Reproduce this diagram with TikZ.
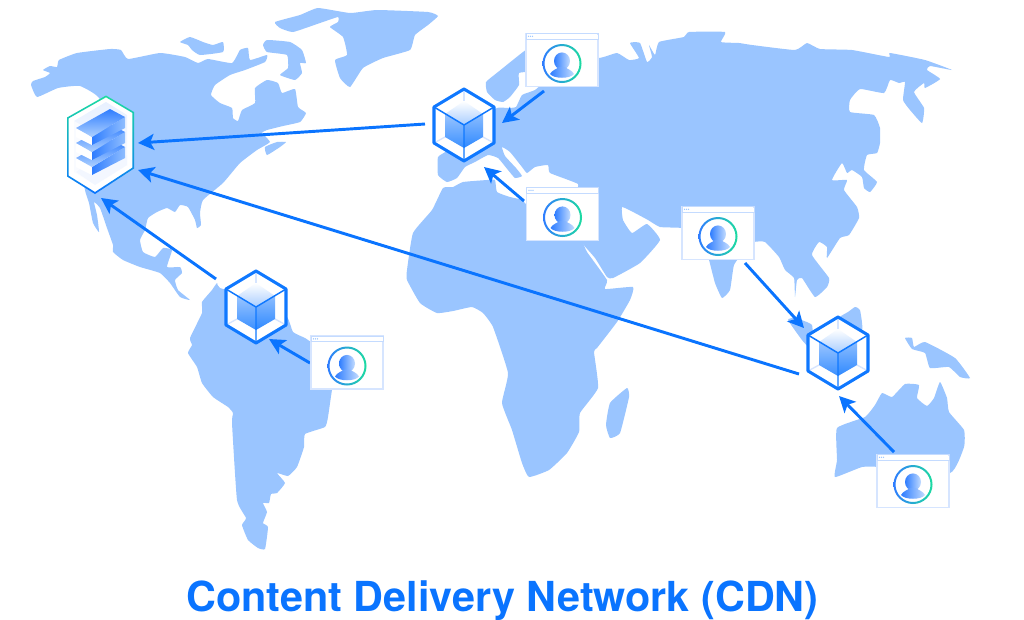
\documentclass[tikz,border=0pt]{standalone}
\usepackage{fontspec}
\setmainfont{TeX Gyre Heros}
\usetikzlibrary{arrows.meta,calc}
\definecolor{landc}{HTML}{9AC5FF}
\definecolor{flowc}{HTML}{0A74FF}
\definecolor{edgec}{HTML}{0F78FF}
\definecolor{paleb}{HTML}{D6E5FF}
\definecolor{ringg}{HTML}{1CDCA0}
\definecolor{ringb}{HTML}{2F7DFF}
\tikzset{
  land/.style={fill=landc,draw=none},
  flow/.style={draw=flowc,line width=2.2pt,-{Stealth[length=12pt,width=12pt,inset=2.8pt]}},
  anchorbox/.style={inner sep=0pt,minimum width=#1,draw=none},
  pics/cube/.style={code={
    \fill[white] (0,-36)--(30,-18)--(30,18)--(0,36)--(-30,18)--(-30,-18)--cycle;
    \draw[paleb,line width=1pt] (-30,18)--(-19,12) (30,18)--(19,12);
    \draw[paleb,line width=.8pt] (0,-36)--(0,-24);
    \shade[top color=white,bottom color=landc!85!white] (0,-24)--(19,-11)--(0,0)--(-19,-11)--cycle;
    \shade[top color=landc,bottom color=flowc!80!white] (-19,-11)--(0,0)--(0,23)--(-19,12)--cycle;
    \shade[top color=landc!90!flowc,bottom color=flowc!85!white] (19,-11)--(0,0)--(0,23)--(19,12)--cycle;
    \draw[edgec,line width=1.1pt] (-30,-18)--(0,0)--(30,-18) (0,0)--(0,36);
    \draw[edgec,line width=2.3pt,line join=round] (0,-36)--(30,-18)--(30,18)--(0,36)--(-30,18)--(-30,-18)--cycle;
  }},
  pics/browser/.style={code={
    \fill[white] (-36,-26.5) rectangle (36,26.5);
    \draw[paleb,line width=.8pt] (-36,-26.5) rectangle (36,26.5);
    \fill[white] (-35.5,-25.5) rectangle (35.5,-21);
    \draw[paleb!70!landc,line width=.7pt] (-36,-26.5) rectangle (36,-21);
    \foreach \dx in {-33.5,-31.5,-29.5}{\fill[landc] (\dx,-23.7) circle (.7);}
    \shade[left color=ringb,right color=ringg,even odd rule] (0,3.5) circle (19.5) (0,3.5) circle (17.5);
    \shade[left color=ringb,right color=landc!60!white] (0,1) ellipse (8 and 8.6);
    \shade[left color=ringb,right color=landc!60!white] (-12,14) .. controls (-10,10) and (-5,9) .. (-3,7) -- (3,7) .. controls (5,9) and (10,10) .. (12,14) .. controls (8,19) and (-8,19) .. (-12,14) -- cycle;
  }}
}
\begin{document}
\begin{tikzpicture}[x=.75pt,y=-.75pt]
\useasboundingbox (0,0) rectangle (1024,619);
% North America
\fill[land] plot[smooth cycle,tension=.25] coordinates {(31,85)(33,81)(45,77)(50,73)(43,70)(50,66)(57,67)(59,60)(77,53)(110,49)(121,50)(128,59)(160,53)(185,57)(198,63)(208,59)(232,63)(240,50)(248,48)(250,60)(267,55)(265,62)(245,70)(230,75)(215,85)(211,95)(220,103)(232,108)(233,118)(238,121)(242,110)(255,103)(255,88)(267,80)(278,83)(282,93)(295,89)(298,107)(306,113)(300,122)(283,126)(267,130)(262,133)(270,142)(257,150)(240,163)(223,183)(203,200)(200,213)(201,225)(197,228)(195,220)(188,207)(180,205)(175,212)(167,208)(157,212)(148,218)(145,230)(140,240)(143,252)(155,257)(163,248)(172,250)(167,267)(180,267)(182,273)(175,280)(178,290)(190,300)(180,297)(170,283)(160,273)(140,267)(123,260)(113,252)(113,245)(107,228)(100,208)(94,202)(97,215)(99,232)(93,223)(89,203)(85,190)(80,150)(100,100)(80,86)(58,88)(37,97)};
% Arctic islands, Baffin, Greenland, Newfoundland
\fill[land] plot[smooth cycle,tension=.25] coordinates {(180,42)(190,37)(203,42)(213,45)(223,42)(223,52)(200,55)(192,50)(188,45)};
\fill[land] plot[smooth cycle,tension=.25] coordinates {(263,45)(267,40)(290,42)(302,50)(306,63)(300,63)(302,73)(295,80)(280,75)(288,68)(287,55)(267,52)};
\fill[land] plot[smooth cycle,tension=.25] coordinates {(275,22)(300,15)(318,8)(350,13)(377,10)(428,12)(438,16)(428,25)(415,35)(410,50)(383,58)(363,68)(350,87)(340,78)(335,60)(347,55)(343,37)(330,27)(338,22)(338,17)(320,23)(293,32)(280,28)};
\fill[land] plot[smooth cycle,tension=.25] coordinates {(265,147)(277,142)(286,142)(280,147)(267,155)};
% South America
\fill[land] plot[smooth cycle,tension=.25] coordinates {(217,283)(220,288)(260,300)(287,317)(293,332)(305,338)(312,343)(330,360)(335,385)(332,390)(328,417)(325,427)(305,434)(304,447)(297,467)(288,476)(277,473)(285,483)(277,493)(271,494)(269,503)(263,503)(267,512)(263,523)(268,527)(265,549)(258,548)(248,540)(242,525)(246,518)(237,500)(232,423)(233,413)(228,407)(213,397)(202,383)(197,367)(188,353)(192,345)(190,338)(202,313)(202,302)(212,290)};
% Eurasia
\fill[land] plot[smooth cycle,tension=.25] coordinates {(599,58)(617,53)(629,60)(639,58)(630,43)(640,43)(647,62)(652,57)(649,45)(655,55)(659,42)(684,37)(689,32)(725,32)(721,42)(739,43)(752,45)(795,50)(807,43)(820,49)(852,50)(889,57)(890,53)(925,60)(952,70)(930,66)(927,70)(940,79)(925,88)(924,83)(914,92)(924,108)(922,123)(910,110)(903,100)(905,82)(899,83)(890,80)(884,93)(860,89)(850,100)(850,112)(874,115)(880,128)(880,143)(877,153)(867,155)(864,170)(877,182)(870,192)(864,188)(862,177)(852,170)(847,173)(842,163)(832,180)(847,180)(844,190)(857,207)(859,218)(849,235)(840,238)(827,258)(827,247)(819,242)(812,255)(829,278)(827,287)(815,297)(802,278)(797,280)(795,297)(794,278)(785,270)(779,257)(765,242)(754,242)(745,250)(734,265)(730,290)(722,298)(715,283)(709,260)(700,235)(682,228)(660,227)(648,220)(635,213)(622,207)(623,220)(632,233)(647,224)(660,240)(640,263)(613,278)(607,277)(595,258)(582,243)(575,230)(575,195)(578,184)(550,173)(548,165)(535,167)(527,173)(522,167)(510,152)(502,147)(505,156)(516,168)(522,176)(515,178)(508,170)(498,158)(488,155)(475,162)(465,167)(457,178)(447,182)(438,175)(438,157)(448,150)(470,125)(497,108)(507,108)(516,107)(522,95)(535,90)(545,80)(545,60)};
% Scandinavia
\fill[land] plot[smooth cycle,tension=.25] coordinates {(486,82)(498,72)(523,52)(535,45)(535,70)(519,73)(519,85)(510,97)(503,102)(495,100)(487,92)};
% Africa, Madagascar
\fill[land] plot[smooth cycle,tension=.25] coordinates {(443,188)(453,187)(463,182)(487,180)(495,180)(497,192)(510,197)(523,200)(527,205)(580,240)(587,252)(607,280)(605,289)(633,287)(630,300)(617,322)(597,348)(594,352)(598,388)(580,413)(579,432)(567,453)(549,470)(529,477)(522,463)(512,430)(502,403)(508,373)(493,327)(483,313)(472,307)(453,311)(437,313)(420,303)(407,280)(407,270)(413,233)(432,210)};
\fill[land] plot[smooth cycle,tension=.25] coordinates {(627,388)(629,397)(620,433)(610,438)(606,425)(610,403)};
% Sumatra, Borneo side, New Guinea, Australia
\fill[land] plot[smooth cycle,tension=.25] coordinates {(788,320)(795,318)(812,325)(812,350)(802,340)};
\fill[land] plot[smooth cycle,tension=.25] coordinates {(840,317)(848,312)(855,307)(860,310)(862,330)(840,330)};
\fill[land] plot[smooth cycle,tension=.25] coordinates {(905,338)(912,338)(914,347)(925,342)(955,358)(970,378)(960,377)(949,367)(930,368)(925,353)(912,349)};
\fill[land] plot[smooth cycle,tension=.25] coordinates {(837,428)(865,417)(875,405)(882,393)(892,397)(905,384)(919,385)(917,398)(927,406)(934,398)(940,382)(947,398)(949,412)(964,430)(964,447)(950,473)(880,467)(862,467)(835,477)(837,460)};
% Named elements
\node[anchorbox=60pt] (srv) at (100,145) {};
\node[anchorbox=45pt] (eu) at (464,125) {};
\node[anchorbox=45pt] (sa) at (256,307) {};
\node[anchorbox=45pt] (sea) at (838,353) {};
\node[anchorbox=54pt] (b1) at (562,60) {};
\node[anchorbox=54pt] (b2) at (562.5,214) {};
\node[anchorbox=54pt] (b3) at (718,233) {};
\node[anchorbox=54pt] (b4) at (347,362.5) {};
\node[anchorbox=54pt] (b5) at (913,481) {};
% Connectors
\draw[flow] ($(eu)+(-39,-1)$) -- ($(srv)+(38,-2)$);
\draw[flow] ($(sea)+(-39,21)$) -- ($(srv)+(38,25)$);
\draw[flow] ($(sa)+(-40,-28)$) -- ($(srv)+(1,53)$);
\draw[flow] ($(b1)+(-18,31)$) -- ($(eu)+(38,-2)$);
\draw[flow] ($(b2)+(-38.5,-13)$) -- ($(eu)+(20,42)$);
\draw[flow] ($(b3)+(27,30)$) -- ($(sea)+(-34,-25)$);
\draw[flow] ($(b5)+(-19,-29)$) -- ($(sea)+(1,43)$);
\draw[flow] ($(b4)+(-37,.5)$) -- ($(sa)+(13,32)$);
% Cubes and browsers
\pic at (eu) {cube};
\pic at (sa) {cube};
\pic at (sea) {cube};
\pic at (b1) {browser};
\pic at (b2) {browser};
\pic at (b3) {browser};
\pic at (b4) {browser};
\pic at (b5) {browser};
% Server hexagon
\fill[white] (106,96)--(133,112)--(133,168)--(95,193)--(68,176)--(68,118)--cycle;
\shade[top color=paleb!55!white,bottom color=white] (106,102)--(127,115)--(127,165)--(95,185)--(74,172)--(74,121)--cycle;
\fill[white!85!paleb] (74,121)--(83,126)--(83,165)--(74,172)--cycle;
\fill[white!70!paleb] (84,166)--(95,173)--(127,155)--(127,165)--(95,185)--(76,172)--cycle;
\foreach \dy in {30,15,0}{
  \fill[white] (76,{128+\dy})--(92,{137+\dy})--(92,{145+\dy})--(76,{137+\dy})--cycle;
  \shade[left color=ringb,right color=landc!90!ringb] (92,{137+\dy})--(125,{117+\dy})--(125,{128+\dy})--(92,{145+\dy})--cycle;
  \shade[top color=ringb,bottom color=landc!80!white] (76,{128+\dy})--(110,{109+\dy})--(125,{117+\dy})--(92,{137+\dy})--cycle;
}
\shade[top color=ringg,bottom color=flowc,even odd rule]
  (106,95.5)--(134,112)--(134,168.5)--(95,194)--(67,176.5)--(67,117.5)--cycle
  (106,97.3)--(132.4,112.9)--(132.4,167.6)--(95,192)--(68.6,175.6)--(68.6,118.4)--cycle;
% Title
\node[font=\bfseries\fontsize{31}{36}\selectfont,text=flowc,inner sep=0pt] (title) at (502.5,601) {Content Delivery Network (CDN)};
\end{tikzpicture}
\end{document}
